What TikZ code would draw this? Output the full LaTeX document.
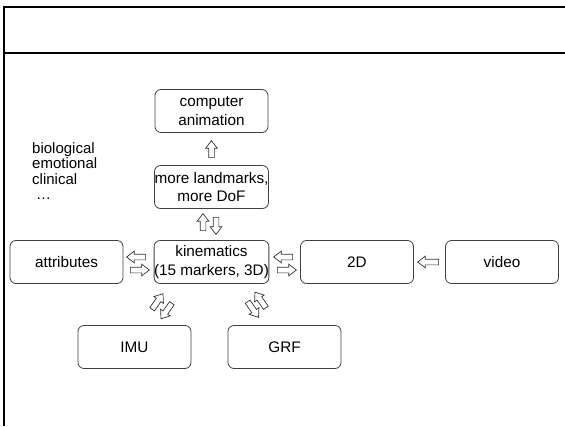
\documentclass[tikz,border=0pt]{standalone}
\usepackage{fontspec}
\setmainfont{Liberation Sans}
\usetikzlibrary{shapes.arrows}

\tikzset{
  box/.style={draw=black!75, line width=0.8pt, rounded corners=6pt, minimum width=113pt, minimum height=43pt,
    inner sep=0pt, align=center, font=\fontsize{15.3}{18.5}\selectfont},
  blk/.style={single arrow, draw=black!80, fill=white, line width=0.7pt, minimum height=19pt,
    inner sep=2.5pt, single arrow head extend=3pt, single arrow tip angle=75}
}

\begin{document}
\begin{tikzpicture}[x=1pt,y=-1pt]
\useasboundingbox (0,0) rectangle (565,426);
% frame
\draw[line width=2.5pt] (4,426) -- (4,6.8) -- (565,6.8);
\draw[line width=1.1pt] (4,53) -- (565,53);

% boxes
\node[box] (anim) at (211.5,111) {computer\\animation};
\node[box] (more) at (211.5,187) {more landmarks,\\more DoF};
\node[box] (kin) at (211.5,262) {kinematics\\(15 markers, 3D)};
\node[box] (attr) at (66.5,262) {attributes};
\node[box] (twod) at (357,262) {2D};
\node[box] (video) at (502,262) {video};
\node[box] (imu) at (134.5,347) {IMU};
\node[box] (grf) at (284.5,347) {GRF};

% attribute kinds
\node[anchor=north west, inner sep=0pt, align=left, font=\fontsize{15}{15.5}\selectfont]
  (kinds) at (32,142) {biological\\emotional\\clinical\\\hspace{4pt}…};

% block arrows
\node[blk, rotate=90, minimum height=17pt] (up1) at (211.5,151) {};
\node[blk, rotate=90, minimum height=17pt] (up2) at (203,224) {};
\node[blk, rotate=-90, minimum height=17pt] (dn2) at (216,224) {};
\node[blk, rotate=180] (lf1) at (138,257) {};
\node[blk] (rt1) at (138,270) {};
\node[blk, rotate=180] (lf2) at (285,257) {};
\node[blk] (rt2) at (285,270) {};
\node[blk, rotate=180, minimum height=21pt] (lf3) at (430,262) {};
\node[blk, rotate=55] (imuup) at (156.5,303) {};
\node[blk, rotate=235] (imudn) at (167.5,309.5) {};
\node[blk, rotate=-55] (grfdn) at (252,308) {};
\node[blk, rotate=125] (grfup) at (261.5,301.5) {};
\end{tikzpicture}
\end{document}
